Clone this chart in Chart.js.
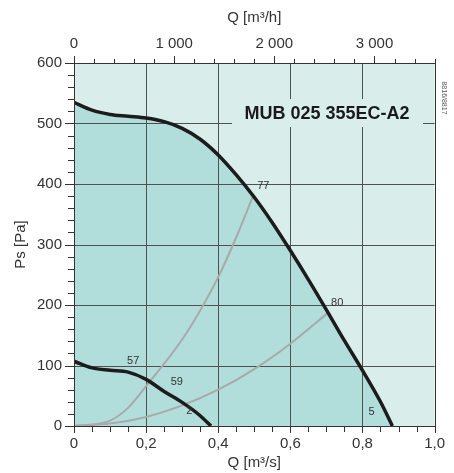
<!DOCTYPE html>
<html lang="en">
<head>
<meta charset="UTF-8">
<title>MUB 025 355EC-A2</title>
<script src="https://cdn.jsdelivr.net/npm/chart.js@4"></script>
<style>
  html, body { margin: 0; padding: 0; background: #fff; }
  #wrap { width: 454px; height: 473px; }
</style>
</head>
<body>
<div id="wrap"><canvas id="fanChart"></canvas></div>
<script>
// fan curves, Q in m3/s, Ps in Pa
const maxQ  = [0, 0.05, 0.1, 0.15, 0.2, 0.25, 0.3, 0.35, 0.4, 0.45, 0.5, 0.55, 0.6, 0.65, 0.7, 0.75, 0.8, 0.85, 0.883];
const maxPs = [535, 522, 515, 512, 509, 503, 492, 474, 448, 415, 378, 336, 290, 242, 192, 141, 92, 40, 0];
const minQ  = [0, 0.05, 0.1, 0.15, 0.2, 0.25, 0.3, 0.35, 0.38];
const minPs = [107, 96, 92, 89, 77, 57, 39, 17, 0];
// system curves (grey)
const sysAQ  = [0, 0.1, 0.15, 0.2, 0.25, 0.3, 0.35, 0.4, 0.45, 0.496];
const sysAPs = [0, 9, 30, 66, 103, 143, 191, 246, 312, 379];
const sysBQ  = [0, 0.1, 0.2, 0.3, 0.4, 0.5, 0.6, 0.704];
const sysBPs = [0, 4, 15, 34, 60, 94, 136, 187];
// small numbers printed next to the curves
const markText = ['77', '80', '57', '59', '2', '5'];
const markQ    = [0.525, 0.73, 0.164, 0.285, 0.32, 0.825];
const markPs   = [397, 204, 108, 73, 25, 24];
// labelled ticks
const majorQ    = [0, 0.2, 0.4, 0.6, 0.8, 1.0];
const majorPs   = [0, 100, 200, 300, 400, 500, 600];
const majorFlow = [0, 1000, 2000, 3000];

const pts = (xs, ys) => xs.map((v, i) => ({ x: v, y: ys[i] }));
const r2 = v => Math.round(v * 100) / 100;

Chart.defaults.font.family = "'Liberation Sans', Arial, sans-serif";
Chart.defaults.color = '#333';

const deco = {
    id: 'deco',
    beforeDraw(chart) {
        const { ctx, chartArea: a } = chart;
        ctx.save();
        ctx.fillStyle = '#d9eeeb';
        ctx.fillRect(a.left, a.top, a.width, a.height);
        ctx.restore();
    },
    beforeDatasetsDraw(chart) {
        // grid lines go over the fill but under the curves
        const { ctx, chartArea: a, scales: { x, y } } = chart;
        ctx.save();
        ctx.strokeStyle = '#505050';
        ctx.lineWidth = 1;
        ctx.beginPath();
        majorQ.forEach(q => {
            if (q <= 0 || q >= 1) return;
            const px = Math.round(x.getPixelForValue(q)) + 0.5;
            ctx.moveTo(px, a.top); ctx.lineTo(px, a.bottom);
        });
        majorPs.forEach(p => {
            if (p <= 0 || p >= 600) return;
            const py = Math.round(y.getPixelForValue(p)) + 0.5;
            ctx.moveTo(a.left, py); ctx.lineTo(a.right, py);
        });
        ctx.stroke();
        ctx.restore();
    },
    afterDraw(chart) {
        const { ctx, chartArea: a, scales: { x, x2, y } } = chart;
        ctx.save();
        ctx.strokeStyle = '#333';
        ctx.lineWidth = 1;
        ctx.beginPath();
        y.ticks.forEach(t => {
            const py = Math.round(y.getPixelForValue(t.value)) + 0.5;
            const len = majorPs.includes(t.value) ? 9 : 6;
            ctx.moveTo(a.left - len, py); ctx.lineTo(a.left, py);
        });
        x.ticks.forEach(t => {
            const px = Math.round(x.getPixelForValue(t.value)) + 0.5;
            const len = majorQ.includes(r2(t.value)) ? 7 : 6;
            ctx.moveTo(px, a.bottom); ctx.lineTo(px, a.bottom + len);
        });
        x2.ticks.forEach(t => {
            const px = Math.round(x2.getPixelForValue(t.value)) + 0.5;
            const len = majorFlow.includes(t.value) ? 7 : 4;
            ctx.moveTo(px, a.top); ctx.lineTo(px, a.top - len);
        });
        ctx.stroke();

        // frame
        ctx.strokeStyle = '#333';
        ctx.strokeRect(Math.round(a.left) + 0.5, Math.round(a.top) + 0.5,
            Math.round(a.width), Math.round(a.height));

        // curve numbers
        ctx.fillStyle = '#333';
        ctx.font = "11px 'Liberation Sans', Arial, sans-serif";
        ctx.textAlign = 'center';
        ctx.textBaseline = 'middle';
        markText.forEach((s, i) => {
            ctx.fillText(s, x.getPixelForValue(markQ[i]), y.getPixelForValue(markPs[i]));
        });

        // model name box
        const bx = a.left + 158, by = a.top + 36;
        ctx.fillStyle = '#d9eeeb';
        ctx.fillRect(bx, by, 191, 28);
        ctx.fillStyle = '#1a1a1a';
        ctx.font = "bold 18px 'Liberation Sans', Arial, sans-serif";
        ctx.fillText('MUB 025 355EC-A2', bx + 95, by + 15);

        // drawing number on the right edge
        ctx.translate(a.right + 9, a.top + 35);
        ctx.rotate(Math.PI / 2);
        ctx.fillStyle = '#555';
        ctx.font = "7px 'Liberation Sans', Arial, sans-serif";
        ctx.fillText('8816/8817', 0, 0);
        ctx.restore();
    }
};

new Chart(document.getElementById('fanChart'), {
    type: 'line',
    data: {
        datasets: [
            { data: pts(maxQ, maxPs), borderColor: '#1c1c1c', borderWidth: 3.5, fill: 'origin', backgroundColor: '#b1dedb' },
            { data: pts(minQ, minPs), borderColor: '#1c1c1c', borderWidth: 3.5, fill: false },
            { data: pts(sysAQ, sysAPs), borderColor: '#a9a9a9', borderWidth: 2, fill: false },
            { data: pts(sysBQ, sysBPs), borderColor: '#a9a9a9', borderWidth: 2, fill: false }
        ]
    },
    options: {
        responsive: true,
        maintainAspectRatio: false,
        animation: false,
        layout: { padding: { left: 0, right: 14, top: 0, bottom: 0 } },
        elements: {
            point: { radius: 0 },
            line: { cubicInterpolationMode: 'monotone' }
        },
        plugins: {
            legend: { display: false },
            tooltip: { enabled: false },
            filler: { drawTime: 'beforeDatasetsDraw' }
        },
        scales: {
            x: {
                type: 'linear', position: 'bottom', min: 0, max: 1,
                afterFit: s => { s.height = 47; },
                grid: { drawOnChartArea: false, drawTicks: false },
                border: { display: false },
                ticks: {
                    stepSize: 0.05, autoSkip: false, maxRotation: 0, padding: 9,
                    font: { size: 15 },
                    callback: v => {
                        const q = r2(v);
                        if (!majorQ.includes(q)) return '';
                        return q === 0 ? '0' : q.toFixed(1).replace('.', ',');
                    }
                },
                title: { display: true, text: 'Q [m³/s]', font: { size: 15 }, padding: { top: 0, bottom: 1 } }
            },
            x2: {
                type: 'linear', position: 'top', min: 0, max: 3600,
                afterFit: s => { s.height = 63; },
                grid: { drawOnChartArea: false, drawTicks: false },
                border: { display: false },
                ticks: {
                    stepSize: 200, autoSkip: false, maxRotation: 0, padding: 10,
                    font: { size: 15 },
                    callback: v => majorFlow.includes(v) ? String(v).replace(/\B(?=(\d{3})+$)/g, ' ') : ''
                },
                title: { display: true, text: 'Q [m³/h]', font: { size: 15 }, padding: { top: 9, bottom: 0 } }
            },
            y: {
                min: 0, max: 600,
                afterFit: s => { s.width = 74; },
                grid: { drawOnChartArea: false, drawTicks: false },
                border: { display: false },
                ticks: {
                    stepSize: 20, autoSkip: false, padding: 12,
                    font: { size: 15 },
                    callback: v => majorPs.includes(v) ? String(v) : ''
                },
                title: { display: true, text: 'Ps [Pa]', font: { size: 15 }, padding: { top: 12, bottom: 0 } }
            }
        }
    },
    plugins: [deco]
});
</script>
</body>
</html>
